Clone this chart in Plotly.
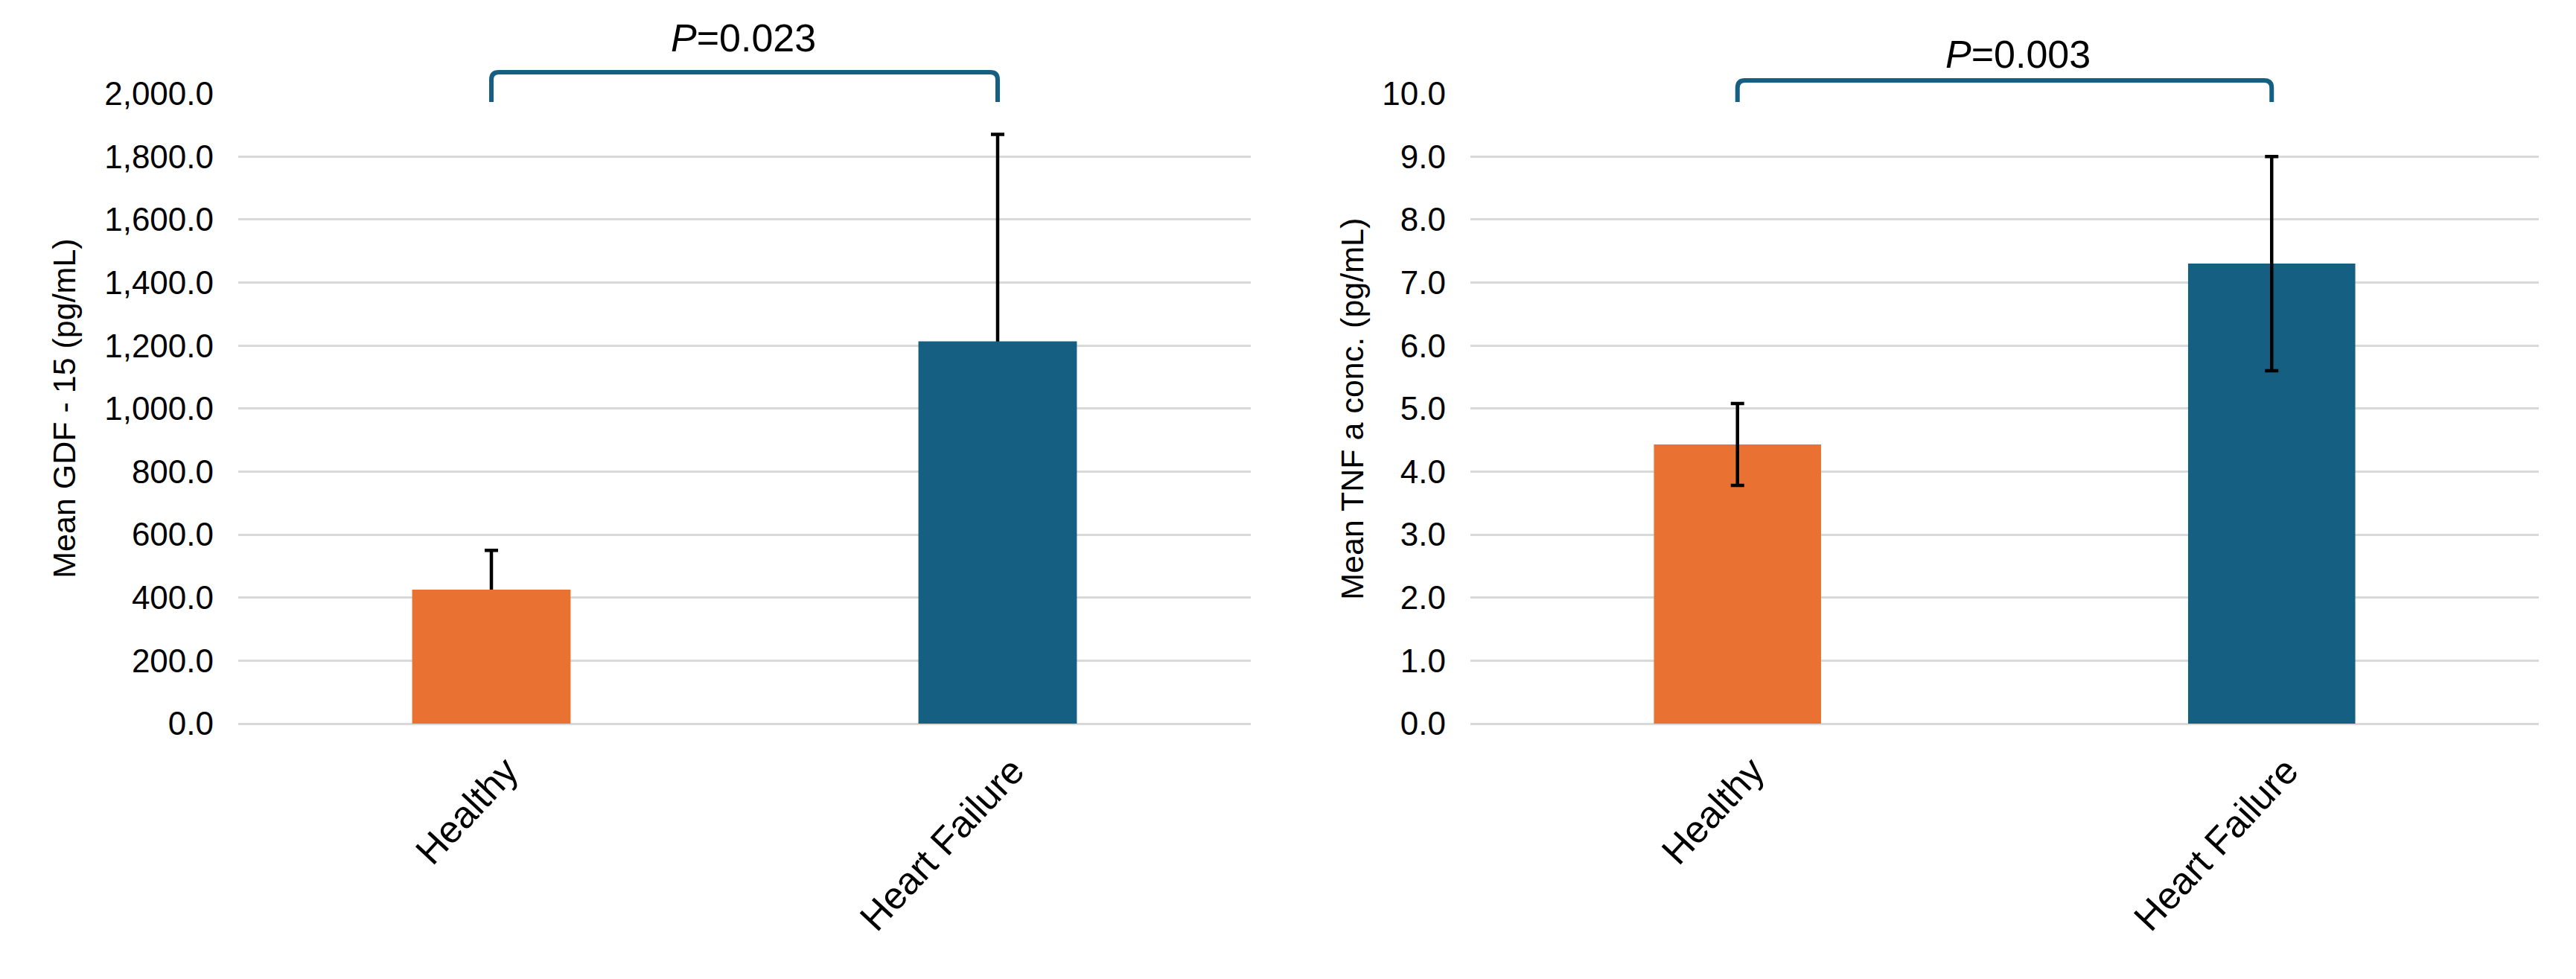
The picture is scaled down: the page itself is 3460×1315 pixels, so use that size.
import plotly.graph_objects as go

# ---------------- data ----------------
categories = ["Healthy", "Heart Failure"]
gdf_mean = [425, 1213]
gdf_sd = [125, 657]
tnf_mean = [4.43, 7.30]
tnf_sd = [0.65, 1.70]
p_labels = ["0.023", "0.003"]
bar_colors = ["#E97132", "#156082"]

gdf_title = "Mean GDF - 15 (pg/mL)"
tnf_title = "Mean TNF a conc. (pg/mL)"

# ---------------- layout constants ----------------
W, H = 3460, 1315
FONT = "Liberation Sans, Arial, sans-serif"
GRID = "#D9D9D9"
BRACKET = "#156082"

def px_x(p):
    return p / W

def px_y(p):
    return 1 - p / H

y_dom = [px_y(972), px_y(125.5)]
x1_dom = [px_x(320), px_x(1680)]
x2_dom = [px_x(1975), px_x(3410)]
bar_w = 0.313

fig = go.Figure()

# GDF: error bars drawn first (lower half hidden by the bars overlaid on top)
fig.add_trace(go.Bar(
    x=categories, y=gdf_mean, width=bar_w,
    marker=dict(color="rgba(0,0,0,0)", line=dict(width=0)),
    error_y=dict(type="data", array=gdf_sd, visible=True, color="black",
                 thickness=4.5, width=9),
    xaxis="x", yaxis="y", showlegend=False, hoverinfo="skip"))
fig.add_trace(go.Bar(
    x=categories, y=gdf_mean, width=bar_w,
    marker=dict(color=bar_colors, line=dict(width=0)),
    xaxis="x", yaxis="y", showlegend=False))

# TNF
fig.add_trace(go.Bar(
    x=categories, y=tnf_mean, width=bar_w,
    marker=dict(color=bar_colors, line=dict(width=0)),
    error_y=dict(type="data", array=tnf_sd, visible=True, color="black",
                 thickness=4.5, width=9),
    xaxis="x2", yaxis="y2", showlegend=False))

common_x = dict(type="category", range=[-0.5, 1.5], tickangle=-47,
                tickfont=dict(family=FONT, size=51, color="black"),
                showgrid=False, showline=False, zeroline=False, ticks="",
                automargin=False, ticklabelstandoff=22, ticklabelshift=20)
common_y = dict(showgrid=True, gridcolor=GRID, gridwidth=3,
                zeroline=True, zerolinecolor=GRID, zerolinewidth=3,
                showline=False, ticks="",
                tickfont=dict(family=FONT, size=44, color="black"),
                automargin=False, ticklabelstandoff=32)

fig.update_layout(
    width=W, height=H,
    margin=dict(l=0, r=0, t=0, b=0),
    paper_bgcolor="white", plot_bgcolor="white",
    barmode="overlay",
    showlegend=False,
    font=dict(family=FONT, color="black"),
    xaxis=dict(domain=x1_dom, anchor="y", **common_x),
    yaxis=dict(domain=y_dom, anchor="x", range=[0, 2000], dtick=200,
               tickformat=",.1f", **common_y),
    xaxis2=dict(domain=x2_dom, anchor="y2", **common_x),
    yaxis2=dict(domain=y_dom, anchor="x2", range=[0, 10], dtick=1,
                tickformat=".1f", **common_y),
)

# brackets
def bracket(xref, y_top_px, y_bot_px, band_px):
    yt, yb = px_y(y_top_px), px_y(y_bot_px)
    ry = 10 / H
    rx = 10 / band_px
    path = (f"M 0,{yb} L 0,{yt - ry} Q 0,{yt} {rx},{yt} "
            f"L {1 - rx},{yt} Q 1,{yt} 1,{yt - ry} L 1,{yb}")
    return dict(type="path", xref=xref, yref="paper", path=path,
                line=dict(color=BRACKET, width=6), layer="above")

fig.add_shape(**bracket("x", 97, 137, 680))
fig.add_shape(**bracket("x2", 108, 137, 717.5))

# P values
for xref, xpos, ypx, p in [("x", 0.498, 51, p_labels[0]),
                           ("x2", 0.525, 73, p_labels[1])]:
    fig.add_annotation(xref=xref, yref="paper", x=xpos, y=px_y(ypx),
                       text=f"<i>P</i>={p}", showarrow=False,
                       xanchor="center", yanchor="middle",
                       font=dict(family=FONT, size=52, color="black"))

# y-axis titles
for xpx, t in [(86, gdf_title), (1816, tnf_title)]:
    fig.add_annotation(xref="paper", yref="paper", x=px_x(xpx),
                       y=(y_dom[0] + y_dom[1]) / 2, text=t, textangle=-90,
                       showarrow=False, xanchor="center", yanchor="middle",
                       font=dict(family=FONT, size=43, color="black"))

fig.write_html("out.html",
               config={"displayModeBar": False},
               post_script="document.body.style.margin='0px';"
                           "document.body.style.overflow='hidden';")
